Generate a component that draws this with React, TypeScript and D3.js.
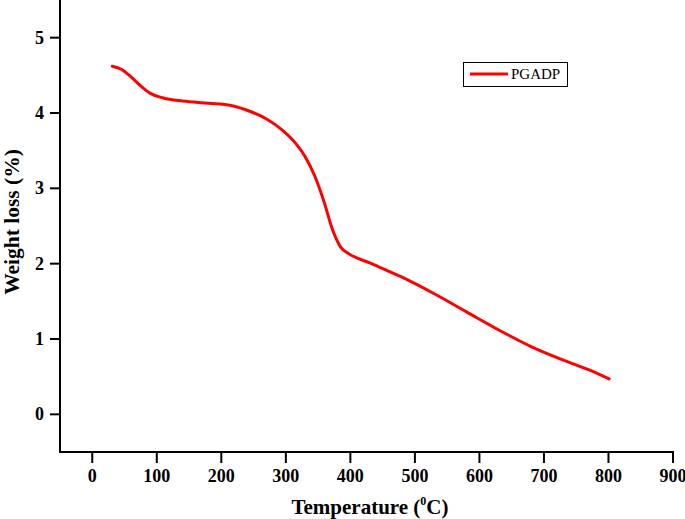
import React from "react";
import * as d3 from "d3";

const temperature = [31, 45, 60, 75, 90, 110, 140, 180, 215, 245, 270, 295, 315, 330, 345, 360, 372, 385, 398, 430, 480, 530, 580, 630, 680, 730, 770, 801];
const weightLoss = [4.62, 4.58, 4.48, 4.36, 4.26, 4.20, 4.16, 4.13, 4.10, 4.02, 3.92, 3.77, 3.60, 3.42, 3.16, 2.80, 2.46, 2.22, 2.13, 2.01, 1.82, 1.60, 1.36, 1.12, 0.90, 0.72, 0.59, 0.47];
const xTicks = [0, 100, 200, 300, 400, 500, 600, 700, 800, 900];
const yTicks = [0, 1, 2, 3, 4, 5];
const seriesName = "PGADP";

export default function App() {
  const W = 685, H = 519;
  const left = 60, right = 673, top = 0, bottom = 452;
  const x = d3.scaleLinear().domain([-50, 900]).range([left, right]);
  const y = d3.scaleLinear().domain([-0.5, 5.5]).range([bottom, top]);
  const data = temperature.map((t, i) => [t, weightLoss[i]] as [number, number]);
  const line = d3.line<[number, number]>().x(d => x(d[0])).y(d => y(d[1])).curve(d3.curveMonotoneX);
  const font = "'Liberation Serif', 'Times New Roman', serif";

  return (
    <svg width={W} height={H} style={{ position: "absolute", left: 0, top: 0, background: "#fff" }} fontFamily={font}>
      <rect x={0} y={0} width={W} height={H} fill="#fff" />
      <line x1={left} x2={left} y1={top} y2={bottom + 1} stroke="#000" strokeWidth={2} />
      <line x1={left - 1} x2={right + 1} y1={bottom} y2={bottom} stroke="#000" strokeWidth={2} />
      {yTicks.map(t => (
        <g key={"y" + t}>
          <line x1={left - 10} x2={left} y1={y(t)} y2={y(t)} stroke="#000" strokeWidth={2} />
          <text x={44} y={y(t) + 6} textAnchor="end" fontSize={18} fontWeight="bold">{t}</text>
        </g>
      ))}
      {xTicks.map(t => (
        <g key={"x" + t}>
          <line x1={x(t)} x2={x(t)} y1={bottom} y2={bottom + 11} stroke="#000" strokeWidth={2} />
          <text x={x(t)} y={482} textAnchor="middle" fontSize={18} fontWeight="bold">{t}</text>
        </g>
      ))}
      <text transform="translate(19,222) rotate(-90)" textAnchor="middle" fontSize={21.5} fontWeight="bold">Weight loss (%)</text>
      <text x={370} y={514} textAnchor="middle" fontSize={21} fontWeight="bold">
        Temperature (<tspan fontSize={12} dy={-9}>0</tspan><tspan dy={9}>C)</tspan>
      </text>
      <path d={line(data) || ""} fill="none" stroke="#ff0000" strokeWidth={3} strokeLinecap="round" strokeLinejoin="round" />
      <rect x={463.5} y={62.5} width={104} height={24} fill="#fff" stroke="#000" strokeWidth={1} />
      <line x1={470} x2={508} y1={74} y2={74} stroke="#ff0000" strokeWidth={3} />
      <text x={511} y={79} fontSize={15}>{seriesName}</text>
    </svg>
  );
}
